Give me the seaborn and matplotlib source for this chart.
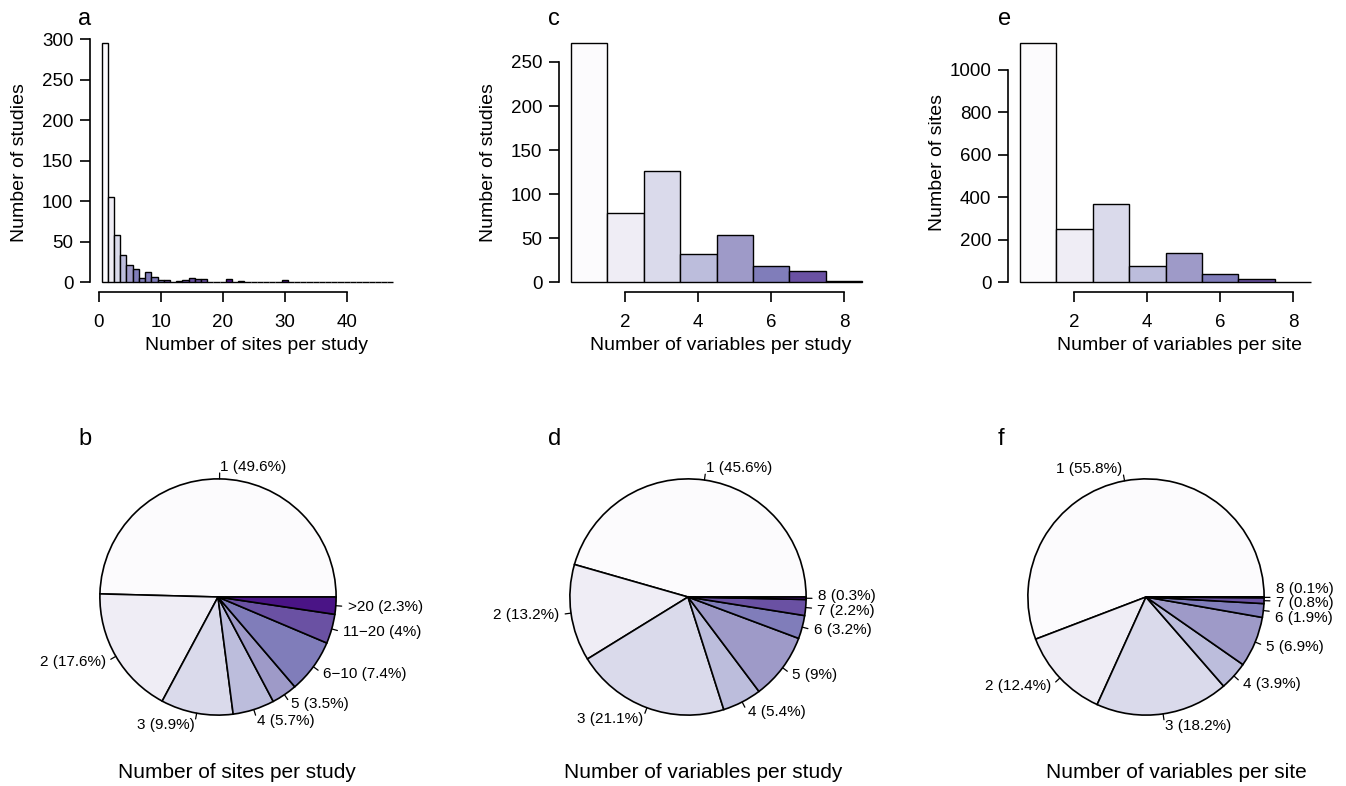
import numpy as np
import pandas as pd
import matplotlib
matplotlib.use("Agg")
import matplotlib.pyplot as plt
import seaborn as sns

# studies by number of sites (value 1..47)
site_values = list(range(1, 48))
site_counts = [296, 105, 59, 34, 21, 16, 5, 13, 7, 3,
               3, 1, 2, 3, 5, 4, 4, 1, 0, 1,
               4, 0, 2, 0, 1, 0, 0, 0, 1, 3,
               0, 0, 0, 1, 0, 0, 0, 0, 0, 1,
               0, 0, 0, 0, 0, 0, 1]
site_groups = ["1", "2", "3", "4", "5", "6\u221210", "11\u221220", ">20"]

# variables per study / per site (value 1..8)
var_values = list(range(1, 9))
var_study_counts = [272, 79, 126, 32, 54, 19, 13, 2]
var_site_counts = [1129, 251, 368, 79, 140, 38, 16, 2]
var_groups = [str(v) for v in var_values]

purples = ["#FCFBFD", "#EFEDF5", "#DADAEB", "#BCBDDC",
           "#9E9AC8", "#807DBA", "#6A51A3", "#4A1486"]

sns.set_style("ticks")
plt.rcParams["font.family"] = ["Liberation Sans", "DejaVu Sans"]
plt.rcParams.update({"text.color": "black", "axes.labelcolor": "black",
                     "xtick.color": "black", "ytick.color": "black",
                     "axes.edgecolor": "black"})

W, H = 1346, 786
fig = plt.figure(figsize=(W / 100, H / 100), dpi=100)


def px_axes(left, top, w, h):
    return fig.add_axes([left / W, 1 - (top + h) / H, w / W, h / H])


def site_group(v):
    if v <= 5:
        return v - 1
    if v <= 10:
        return 5
    if v <= 20:
        return 6
    return 7


def r_hist(ax, values, counts, group_idx, yticks, xticks, xlabel, ylabel, xlab_x):
    df = pd.DataFrame({"value": values, "count": counts})
    sns.histplot(data=df, x="value", weights="count", discrete=True, ax=ax,
                 edgecolor="black", linewidth=1.0, alpha=1)
    for patch, g in zip(ax.patches, group_idx):
        patch.set_facecolor(purples[g])
    lo, hi = values[0] - 0.5, values[-1] + 0.5
    pad = (hi - lo) * 0.04
    ax.set_xlim(lo - pad, hi + pad)
    ymax = max(counts)
    ax.set_ylim(-0.04 * ymax, 1.04 * ymax)
    ax.set_xticks(xticks)
    ax.set_yticks(yticks)
    sns.despine(ax=ax)
    ax.spines["left"].set_bounds(yticks[0], yticks[-1])
    ax.spines["bottom"].set_bounds(xticks[0], xticks[-1])
    for s in ("left", "bottom"):
        ax.spines[s].set_linewidth(1.2)
    ax.tick_params(axis="both", direction="out", length=7, width=1.2,
                   labelsize=13.5)
    ax.tick_params(axis="y", pad=5)
    ax.tick_params(axis="x", pad=9)
    ax.set_xlabel(xlabel, fontsize=14, va="center")
    ax.set_ylabel(ylabel, fontsize=14, va="center")
    ax.xaxis.set_label_coords(xlab_x, -0.205)
    ax.yaxis.set_label_coords(-0.225, 0.5)


def spread(ys, gap):
    # push label heights apart so they do not overlap
    order = np.argsort(ys)
    ys = np.array(ys, dtype=float)
    for _ in range(200):
        moved = False
        for a, b in zip(order[:-1], order[1:]):
            d = ys[b] - ys[a]
            if d < gap - 1e-6:
                ys[a] -= (gap - d) / 2
                ys[b] += (gap - d) / 2
                moved = True
        if not moved:
            break
    return ys


def r_pie(ax, counts, names):
    total = sum(counts)
    wedges, _ = ax.pie(counts, colors=purples[:len(counts)], startangle=0,
                       counterclock=True, radius=1,
                       wedgeprops=dict(edgecolor="black", linewidth=1.2))
    xs, ys, labels = [], [], []
    for w, n, c in zip(wedges, names, counts):
        pct = round(100 * c / total, 1)
        labels.append(f"{n} ({pct:g}%)")
        ang = np.deg2rad((w.theta1 + w.theta2) / 2)
        x, y = np.cos(ang), np.sin(ang)
        ax.plot([x, 1.05 * x], [y, 1.05 * y], color="black", lw=0.9)
        xs.append(x)
        ys.append(y)
    xs = np.array(xs)
    ty = 1.1 * np.array(ys)
    for side in (xs >= 0, xs < 0):
        idx = np.where(side)[0]
        if len(idx) > 1:
            ty[idx] = spread(ty[idx], 0.125)
    for x, y, lab in zip(xs, ty, labels):
        ax.text(1.1 * x, y, lab, ha="left" if x >= 0 else "right",
                va="center", fontsize=11)
    ax.set_xlim(-1.27, 1.27)
    ax.set_ylim(-1.27, 1.27)
    ax.set_aspect("equal")
    ax.axis("off")


# top row: histograms
ax_a = px_axes(90, 33, 315, 259)
r_hist(ax_a, site_values, site_counts, [site_group(v) for v in site_values],
       [0, 50, 100, 150, 200, 250, 300], [0, 10, 20, 30, 40],
       "Number of sites per study", "Number of studies", 0.527)

ax_c = px_axes(559, 33, 315, 259)
r_hist(ax_c, var_values, var_study_counts, list(range(8)),
       [0, 50, 100, 150, 200, 250], [2, 4, 6, 8],
       "Number of variables per study", "Number of studies", 0.514)

ax_e = px_axes(1008, 33, 315, 259)
r_hist(ax_e, var_values, var_site_counts, list(range(8)),
       [0, 200, 400, 600, 800, 1000], [2, 4, 6, 8],
       "Number of variables per site", "Number of sites", 0.543)

# bottom row: pies
grouped = pd.DataFrame({"value": site_values, "count": site_counts})
grouped["grp"] = [site_group(v) for v in site_values]
site_group_counts = grouped.groupby("grp")["count"].sum().tolist()

ax_b = px_axes(218 - 150, 597 - 150, 300, 300)
r_pie(ax_b, site_group_counts, site_groups)
ax_d = px_axes(688 - 150, 597 - 150, 300, 300)
r_pie(ax_d, var_study_counts, var_groups)
ax_f = px_axes(1146 - 150, 597 - 150, 300, 300)
r_pie(ax_f, var_site_counts, var_groups)

for x, title in [(237, "Number of sites per study"),
                 (703, "Number of variables per study"),
                 (1176, "Number of variables per site")]:
    fig.text(x / W, 1 - 773 / H, title, ha="center", va="center", fontsize=15)

for x, y, letter in [(78, 25, "a"), (548, 25, "c"), (998, 25, "e"),
                     (78, 445, "b"), (548, 445, "d"), (998, 445, "f")]:
    fig.text(x / W, 1 - y / H, letter, ha="left", va="baseline", fontsize=17)

fig.savefig("out.png", dpi=100)
